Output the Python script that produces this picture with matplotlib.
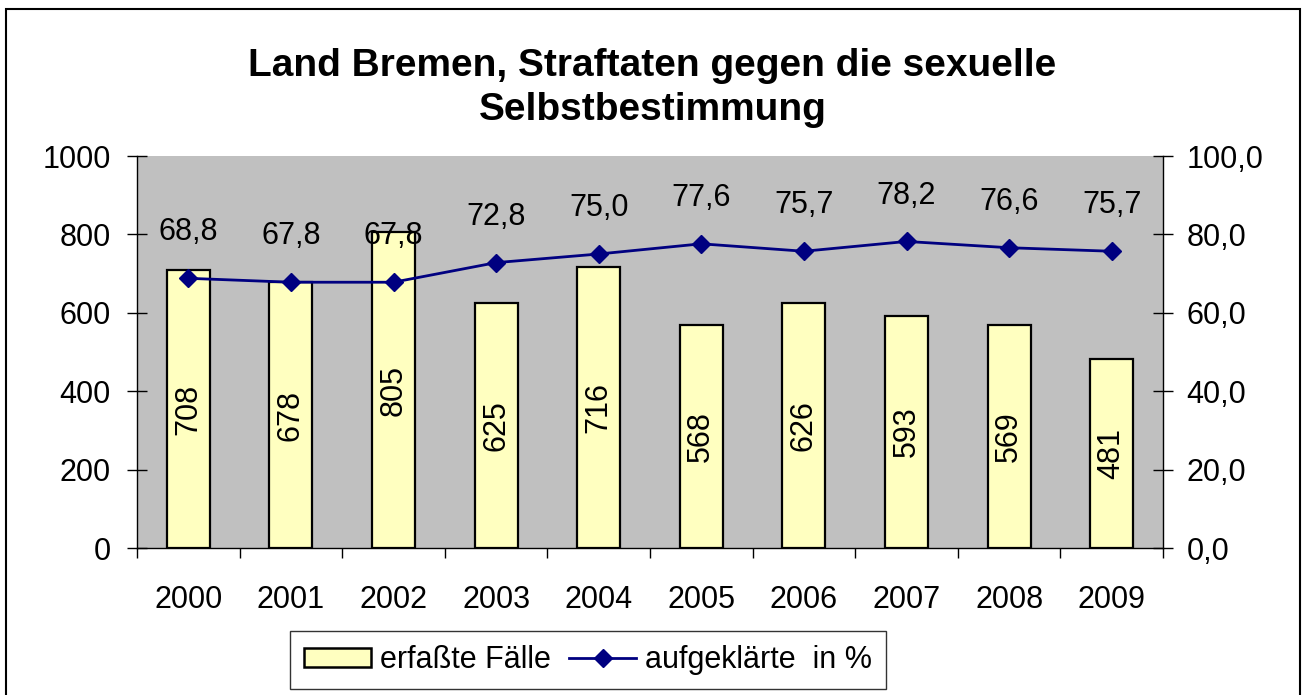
"""Land Bremen: recorded sexual offences and clearance rate, 2000-2009."""

import matplotlib

matplotlib.use("Agg")
import matplotlib.pyplot as plt
import matplotlib.patches as patches
from matplotlib.ticker import FixedLocator, FuncFormatter
import numpy as np

years = ["2000", "2001", "2002", "2003", "2004", "2005", "2006", "2007", "2008", "2009"]
cases = [708, 678, 805, 625, 716, 568, 626, 593, 569, 481]
cleared_pct = [68.8, 67.8, 67.8, 72.8, 75.0, 77.6, 75.7, 78.2, 76.6, 75.7]

title = "Land Bremen, Straftaten gegen die sexuelle\nSelbstbestimmung"
label_cases = "erfaßte Fälle"
label_pct = "aufgeklärte  in %"

plt.rcParams["font.family"] = ["Liberation Sans", "DejaVu Sans"]
FS = 22

fig = plt.figure(figsize=(13.05, 6.95), dpi=100)
fig.patch.set_facecolor("white")

ax1 = fig.add_axes([137 / 1305, 147 / 695, 1026 / 1305, 392 / 695])
ax1.set_facecolor("#C0C0C0")
ax2 = ax1.twinx()

x = np.arange(len(years))
bars = ax1.bar(x, cases, width=0.42, color="#FFFFC0", edgecolor="black",
               linewidth=1.6, zorder=2)
for bar, v in zip(bars, cases):
    ax1.text(bar.get_x() + bar.get_width() / 2, v / 2, str(v), rotation=90,
             ha="center", va="center", fontsize=FS, zorder=3)

ax2.plot(x, cleared_pct, color="#000080", linewidth=2, marker="D",
         markersize=9, zorder=4)
for xi, v in zip(x, cleared_pct):
    ax2.annotate(f"{v:.1f}".replace(".", ","), (xi, v), xytext=(0, 33),
                 textcoords="offset points", ha="center", va="center",
                 fontsize=FS, zorder=5)

ax1.set_xlim(-0.5, len(years) - 0.5)
ax1.set_ylim(0, 1000)
ax2.set_ylim(0, 100)

ax1.set_yticks(np.arange(0, 1001, 200))
ax2.set_yticks(np.arange(0, 101, 20))
ax2.yaxis.set_major_formatter(FuncFormatter(lambda v, p: f"{v:.1f}".replace(".", ",")))

ax1.set_xticks(x)
ax1.set_xticklabels(years)
ax1.xaxis.set_minor_locator(FixedLocator(np.arange(-0.5, len(years), 1.0)))
ax1.tick_params(axis="x", which="major", length=0, pad=27, labelsize=FS)
ax1.tick_params(axis="x", which="minor", length=7, width=1, direction="out")
ax1.tick_params(axis="y", length=14, width=1, direction="inout", pad=12, labelsize=FS)
ax2.tick_params(axis="y", length=14, width=1, direction="inout", pad=10, labelsize=FS)

for ax in (ax1, ax2):
    ax.spines["top"].set_visible(False)
    for s in ("left", "right", "bottom"):
        ax.spines[s].set_color("black")
        ax.spines[s].set_linewidth(1)
ax1.spines["right"].set_visible(False)
ax2.spines["left"].set_visible(False)
ax2.spines["bottom"].set_visible(False)

fig.text(0.5, 1 - 88 / 695, title, ha="center", va="center", fontsize=28,
         fontweight="bold", linespacing=1.32)

handles = [
    patches.Patch(facecolor="#FFFFC0", edgecolor="black", linewidth=1.8),
    plt.Line2D([], [], color="#000080", linewidth=2, marker="D", markersize=9),
]
leg = fig.legend(handles, [label_cases, label_pct], loc="center",
                 bbox_to_anchor=(588 / 1305, 35 / 695), ncol=2, fontsize=FS,
                 frameon=True, fancybox=False, handlelength=2.2,
                 handleheight=0.6, handletextpad=0.3, columnspacing=0.6,
                 borderpad=0.45, borderaxespad=0.4)
leg.get_frame().set_edgecolor("black")
leg.get_frame().set_linewidth(1)

fig.add_artist(patches.Rectangle((6 / 1305, -0.02), 1294 / 1305, 1 - 9 / 695 + 0.02,
                                 transform=fig.transFigure, fill=False,
                                 edgecolor="black", linewidth=1.5))

fig.savefig("out.png", dpi=100)
